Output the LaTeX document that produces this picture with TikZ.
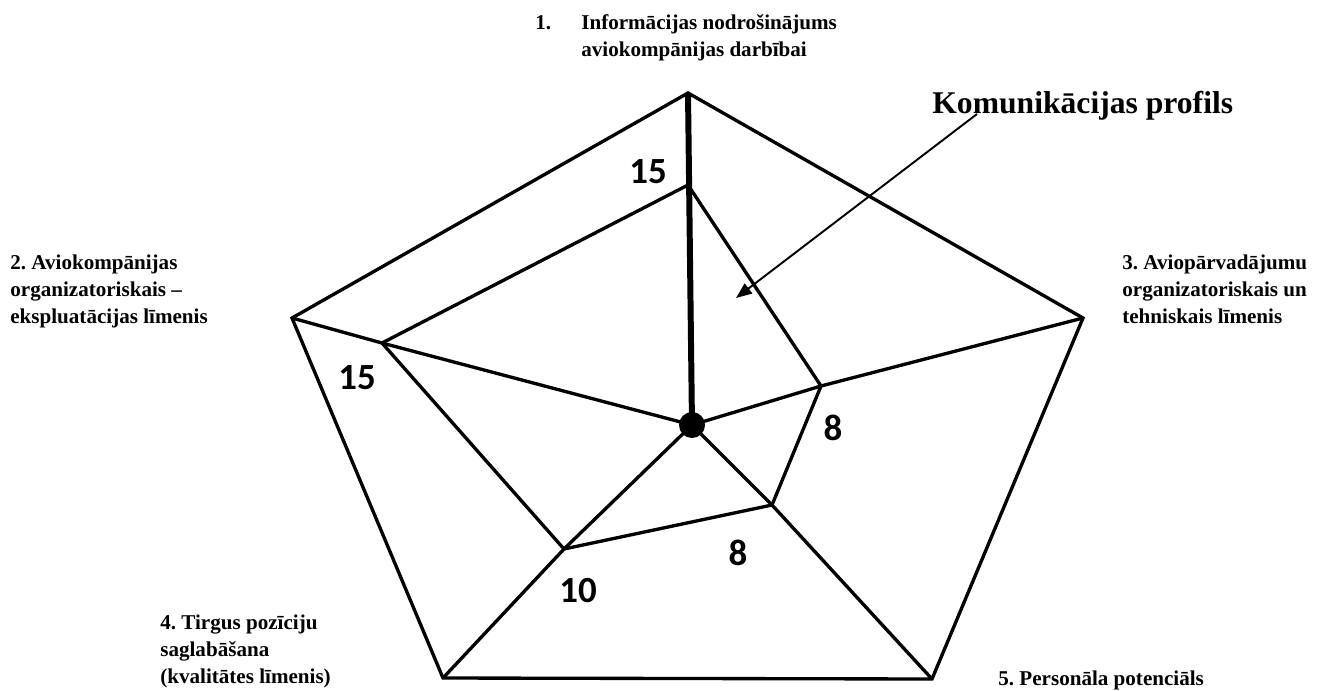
\documentclass[tikz,border=0pt]{standalone}
\usepackage{fontspec}
\setmainfont{Liberation Serif}
\newfontfamily\numfont{Carlito}
\usetikzlibrary{arrows.meta}
\frenchspacing

\begin{document}
\begin{tikzpicture}[x=0.02cm, y=-0.02cm,
    edge/.style={line width=1.9pt, line join=miter},
    lbl/.style={font=\bfseries\fontsize{12}{15.3}\selectfont, align=left, inner sep=0pt, anchor=base west},
    val/.style={font=\numfont\bfseries\fontsize{21}{24}\selectfont, inner sep=0pt}]
    \useasboundingbox (0,0) rectangle (1322,690);

    % outer pentagon
    \coordinate (o1) at (688,93);
    \coordinate (o2) at (292,318);
    \coordinate (o3) at (1083,318);
    \coordinate (o4) at (443,678);
    \coordinate (o5) at (932,679);
    % profile points
    \coordinate (i1) at (688,185);
    \coordinate (i2) at (382,343);
    \coordinate (i3) at (821,386);
    \coordinate (i4) at (564,549);
    \coordinate (i5) at (772,505);
    \node (c) at (692,425) [circle, fill, inner sep=0pt, minimum size=0.52cm] {};

    \draw[edge] (o1) -- (o3) -- (o5) -- (o4) -- (o2) -- cycle;
    \draw[edge] (i1) -- (i3) -- (i5) -- (i4) -- (i2) -- cycle;
    \draw[line width=3.4pt] (c.center) -- (o1);
    \draw[edge] (c.center) -- (i2) -- (o2);
    \draw[edge] (c.center) -- (i3) -- (o3);
    \draw[edge] (c.center) -- (i4) -- (o4);
    \draw[edge] (c.center) -- (i5) -- (o5);

    \node (v1) at (648,172) [val] {15};
    \node (v2) at (357,378) [val] {15};
    \node (v3) at (833,428) [val] {8};
    \node (v5) at (738,553) [val] {8};
    \node (v4) at (578,591) [val] {10};

    \node (l1) at (535,56) [lbl] {\makebox[0.92cm][l]{1.}Informācijas nodrošinājums\\\hspace*{0.92cm}aviokompānijas darbībai};
    \node (l2) at (10,323) [lbl] {2. Aviokompānijas\\organizatoriskais –\\ekspluatācijas līmenis};
    \node (l3) at (1122,323) [lbl] {3. Aviopārvadājumu\\organizatoriskais un\\tehniskais līmenis};
    \node (l4) at (160,683) [lbl] {4. Tirgus pozīciju\\saglabāšana\\(kvalitātes līmenis)};
    \node (l5) at (998,685) [lbl] {5. Personāla potenciāls};

    \node (prof) at (932,113) [anchor=base west, inner sep=0pt, font=\bfseries\fontsize{18}{22}\selectfont] {Komunikācijas profils};
    \coordinate (ps) at (977,114);
    \coordinate (pe) at (736,298);
    \draw[line width=1.1pt, -{Triangle[length=9pt, width=7pt]}] (ps) -- (pe);
\end{tikzpicture}
\end{document}
